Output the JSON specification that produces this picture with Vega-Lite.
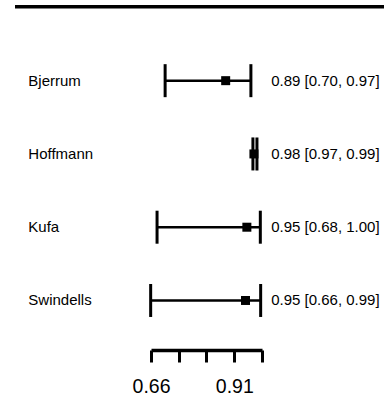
{
  "$schema": "https://vega.github.io/schema/vega-lite/v6.json",
  "width": 384,
  "height": 350,
  "autosize": {"type": "none"},
  "padding": {"left": 0, "top": 0, "right": 0, "bottom": 51},
  "background": "white",
  "config": {"view": {"stroke": null}},
  "data": {
    "values": [
      {"study": "Bjerrum", "row": 1, "est": 0.882, "lo": 0.702, "hi": 0.957, "label": "0.89 [0.70, 0.97]"},
      {"study": "Hoffmann", "row": 2, "est": 0.966, "lo": 0.963, "hi": 0.975, "label": "0.98 [0.97, 0.99]"},
      {"study": "Kufa", "row": 3, "est": 0.945, "lo": 0.678, "hi": 0.985, "label": "0.95 [0.68, 1.00]"},
      {"study": "Swindells", "row": 4, "est": 0.941, "lo": 0.659, "hi": 0.986, "label": "0.95 [0.66, 0.99]"}
    ]
  },
  "layer": [
    {
      "mark": {"type": "rule", "color": "black", "strokeWidth": 2.5},
      "encoding": {
        "x": {
          "field": "lo", "type": "quantitative", "title": null,
          "scale": {"domain": [0.66, 0.99], "range": [151, 262], "zero": false, "nice": false},
          "axis": {
            "values": [0.66, 0.7425, 0.825, 0.9075, 0.99],
            "labelExpr": "datum.value < 0.7 ? '0.66' : (datum.value > 0.9 && datum.value < 0.95) ? '0.91' : ''",
            "grid": false,
            "domainColor": "black", "domainWidth": 3.5,
            "tickColor": "black", "tickWidth": 3, "tickSize": 12,
            "labelColor": "black", "labelFont": "Liberation Sans", "labelFontSize": 19.5,
            "labelPadding": 15, "labelFlush": false, "labelOverlap": false
          }
        },
        "x2": {"field": "hi"},
        "y": {"field": "row", "type": "quantitative", "scale": {"domain": [-0.101, 4.676], "reverse": true, "zero": false, "nice": false}, "axis": null}
      }
    },
    {
      "mark": {"type": "tick", "orient": "vertical", "color": "black", "size": 33, "thickness": 3, "opacity": 1},
      "encoding": {
        "x": {"field": "lo", "type": "quantitative", "title": null},
        "y": {"field": "row", "type": "quantitative", "axis": null}
      }
    },
    {
      "mark": {"type": "tick", "orient": "vertical", "color": "black", "size": 33, "thickness": 3, "opacity": 1},
      "encoding": {
        "x": {"field": "hi", "type": "quantitative", "title": null},
        "y": {"field": "row", "type": "quantitative", "axis": null}
      }
    },
    {
      "mark": {"type": "point", "shape": "square", "filled": true, "color": "black", "size": 81, "opacity": 1, "strokeWidth": 0},
      "encoding": {
        "x": {"field": "est", "type": "quantitative", "title": null},
        "y": {"field": "row", "type": "quantitative", "axis": null}
      }
    },
    {
      "mark": {"type": "text", "align": "left", "baseline": "middle", "font": "Liberation Sans", "fontSize": 15, "color": "black"},
      "encoding": {
        "x": {"datum": 0.2953, "type": "quantitative"},
        "y": {"field": "row", "type": "quantitative", "axis": null},
        "text": {"field": "study"}
      }
    },
    {
      "mark": {"type": "text", "align": "left", "baseline": "middle", "font": "Liberation Sans", "fontSize": 15, "color": "black"},
      "encoding": {
        "x": {"datum": 1.0173, "type": "quantitative"},
        "y": {"field": "row", "type": "quantitative", "axis": null},
        "text": {"field": "label"}
      }
    },
    {
      "data": {"values": [{}]},
      "mark": {"type": "rule", "color": "black", "strokeWidth": 3.5},
      "encoding": {
        "x": {"datum": 0.2557, "type": "quantitative"},
        "x2": {"datum": 1.4},
        "y": {"datum": -0.008, "type": "quantitative"}
      }
    }
  ]
}
